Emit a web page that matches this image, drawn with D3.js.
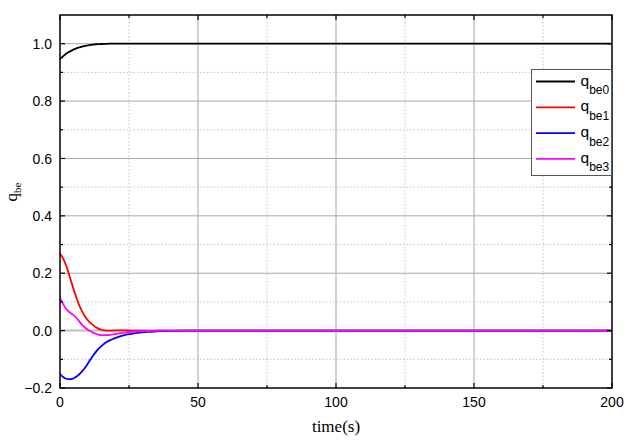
<!DOCTYPE html>
<html lang="en">
<head>
  <meta charset="UTF-8">
  <title>q_be vs time</title>
  <script src="https://d3js.org/d3.v7.min.js"></script>
  <style>
    body {
      margin: 0;
      padding: 0;
      background: #fff;
    }
    .tick-label {
      font-family: Arial, "Liberation Sans", sans-serif;
      font-size: 14px;
      fill: #000;
    }
    .axis-title {
      font-family: "Times New Roman", "Liberation Serif", serif;
      font-size: 17px;
      fill: #000;
    }
    .legend-text {
      font-family: Arial, "Liberation Sans", sans-serif;
      font-size: 15.5px;
      fill: #000;
    }
  </style>
</head>
<body>
<div id="chart"></div>
<script>
  // values
  const times = [0, 1, 2, 3, 4, 5, 6, 7, 8, 9, 10, 11, 12, 13, 14, 15, 16, 17, 18,
                 20, 22, 24, 26, 28, 30, 33, 36, 40, 45, 50, 60, 80, 100, 150, 200];
  const qbe0 = [0.946, 0.955, 0.963, 0.970, 0.975, 0.980, 0.984, 0.987, 0.990, 0.992, 0.994, 0.9955, 0.997, 0.998, 0.9985, 0.999, 0.9994, 0.9997, 0.9999,
                1, 1, 1, 1, 1, 1, 1, 1, 1, 1, 1, 1, 1, 1, 1, 1];
  const qbe1 = [0.268, 0.254, 0.232, 0.204, 0.173, 0.142, 0.113, 0.088, 0.067, 0.050, 0.037, 0.027, 0.019, 0.012, 0.007, 0.003, 0.001, 0, 0,
                0.0005, 0.0008, 0.0005, 0.0002, 0, 0, 0, 0, 0, 0, 0, 0, 0, 0, 0, 0];
  const qbe2 = [-0.152, -0.161, -0.167, -0.169, -0.169, -0.166, -0.160, -0.152, -0.142, -0.130, -0.116, -0.101, -0.087, -0.074, -0.063, -0.054, -0.046, -0.039, -0.034,
                -0.026, -0.019, -0.014, -0.011, -0.008, -0.006, -0.004, -0.002, -0.001, 0, 0, 0, 0, 0, 0, 0];
  const qbe3 = [0.114, 0.095, 0.079, 0.068, 0.060, 0.053, 0.044, 0.032, 0.020, 0.011, 0.004, -0.002, -0.007, -0.011, -0.014, -0.016, -0.016, -0.016, -0.015,
                -0.012, -0.009, -0.006, -0.004, -0.003, -0.002, -0.001, 0, 0, 0, 0, 0, 0, 0, 0, 0];

  const seriesNames = ["be0", "be1", "be2", "be3"];
  const seriesColors = ["#000000", "#ff0000", "#0000ff", "#ff00ff"];
  const allSeries = [qbe0, qbe1, qbe2, qbe3];

  const xTicks = [0, 50, 100, 150, 200];
  const xMinor = [25, 75, 125, 175];
  const yTicks = [-0.2, 0.0, 0.2, 0.4, 0.6, 0.8, 1.0];
  const yMinor = [-0.1, 0.1, 0.3, 0.5, 0.7, 0.9];

  const width = 636, height = 442;
  const plot = { left: 60, right: 612, top: 15, bottom: 388 };

  const svg = d3.select("#chart")
    .append("svg")
    .attr("width", width)
    .attr("height", height);

  const x = d3.scaleLinear().domain([0, 200]).range([plot.left, plot.right]);
  const y = d3.scaleLinear().domain([-0.2, 1.1]).range([plot.bottom, plot.top]);

  // grid - minor dotted
  const grid = svg.append("g");
  grid.selectAll(".vminor").data(xMinor).enter().append("line")
    .attr("x1", d => x(d)).attr("x2", d => x(d))
    .attr("y1", plot.top).attr("y2", plot.bottom)
    .attr("stroke", "#c4c4c4").attr("stroke-dasharray", "1.5,2");
  grid.selectAll(".hminor").data(yMinor).enter().append("line")
    .attr("y1", d => y(d)).attr("y2", d => y(d))
    .attr("x1", plot.left).attr("x2", plot.right)
    .attr("stroke", "#c4c4c4").attr("stroke-dasharray", "1.5,2");
  // grid - major solid
  grid.selectAll(".vmajor").data(xTicks.slice(1, -1)).enter().append("line")
    .attr("x1", d => x(d)).attr("x2", d => x(d))
    .attr("y1", plot.top).attr("y2", plot.bottom)
    .attr("stroke", "#a8a8a8");
  grid.selectAll(".hmajor").data(yTicks.slice(1)).enter().append("line")
    .attr("y1", d => y(d)).attr("y2", d => y(d))
    .attr("x1", plot.left).attr("x2", plot.right)
    .attr("stroke", d => d === 0 ? "#bdbdbd" : "#a8a8a8")
    .attr("stroke-width", d => d === 0 ? 2 : 1);

  // curves
  const line = d3.line()
    .x((d, i) => x(times[i]))
    .y(d => y(d))
    .curve(d3.curveMonotoneX);

  svg.append("g").selectAll("path")
    .data(allSeries)
    .enter()
    .append("path")
    .attr("fill", "none")
    .attr("stroke", (d, i) => seriesColors[i])
    .attr("stroke-width", 1.8)
    .attr("d", line);

  // frame
  svg.append("rect")
    .attr("x", plot.left).attr("y", plot.top)
    .attr("width", plot.right - plot.left)
    .attr("height", plot.bottom - plot.top)
    .attr("fill", "none")
    .attr("stroke", "#000")
    .attr("stroke-width", 1.5);

  // ticks on all four sides, pointing inward
  const ticks = svg.append("g").attr("stroke", "#000").attr("stroke-width", 1.2);
  const addX = (vals, len) => {
    vals.forEach(v => {
      ticks.append("line").attr("x1", x(v)).attr("x2", x(v)).attr("y1", plot.bottom).attr("y2", plot.bottom - len);
      ticks.append("line").attr("x1", x(v)).attr("x2", x(v)).attr("y1", plot.top).attr("y2", plot.top + len);
    });
  };
  const addY = (vals, len) => {
    vals.forEach(v => {
      ticks.append("line").attr("y1", y(v)).attr("y2", y(v)).attr("x1", plot.left).attr("x2", plot.left + len);
      ticks.append("line").attr("y1", y(v)).attr("y2", y(v)).attr("x1", plot.right).attr("x2", plot.right - len);
    });
  };
  addX(xTicks, 5);
  addX(xMinor, 3);
  addY(yTicks, 5);
  addY(yMinor, 3);

  // tick labels
  svg.append("g").selectAll("text")
    .data(xTicks)
    .enter()
    .append("text")
    .attr("class", "tick-label")
    .attr("x", d => x(d))
    .attr("y", 407)
    .attr("text-anchor", "middle")
    .text(d => d);

  svg.append("g").selectAll("text")
    .data(yTicks)
    .enter()
    .append("text")
    .attr("class", "tick-label")
    .attr("x", 52)
    .attr("y", d => y(d))
    .attr("dy", "0.36em")
    .attr("text-anchor", "end")
    .text(d => d3.format(".1f")(d));

  // axis titles
  svg.append("text")
    .attr("class", "axis-title")
    .attr("x", 336)
    .attr("y", 432)
    .attr("text-anchor", "middle")
    .text("time(s)");

  const yTitle = svg.append("text")
    .attr("class", "axis-title")
    .attr("transform", "translate(17,192) rotate(-90)")
    .attr("text-anchor", "middle");
  yTitle.append("tspan").text("q");
  yTitle.append("tspan").attr("dy", 4).attr("font-size", "11px").text("be");

  // legend
  const legend = svg.append("g");
  legend.append("rect")
    .attr("x", 531.5).attr("y", 69.5)
    .attr("width", 80).attr("height", 106)
    .attr("fill", "#fff")
    .attr("stroke", "#555")
    .attr("stroke-width", 1);

  seriesNames.forEach((name, i) => {
    const ly = 81.5 + i * 25.8;
    legend.append("line")
      .attr("x1", 536).attr("x2", 575)
      .attr("y1", ly).attr("y2", ly)
      .attr("stroke", seriesColors[i])
      .attr("stroke-width", 1.8);
    const t = legend.append("text")
      .attr("class", "legend-text")
      .attr("x", 580.5)
      .attr("y", ly + 4);
    t.append("tspan").text("q");
    t.append("tspan").attr("dy", 8.5).attr("font-size", "12px").text(name);
  });
</script>
</body>
</html>
